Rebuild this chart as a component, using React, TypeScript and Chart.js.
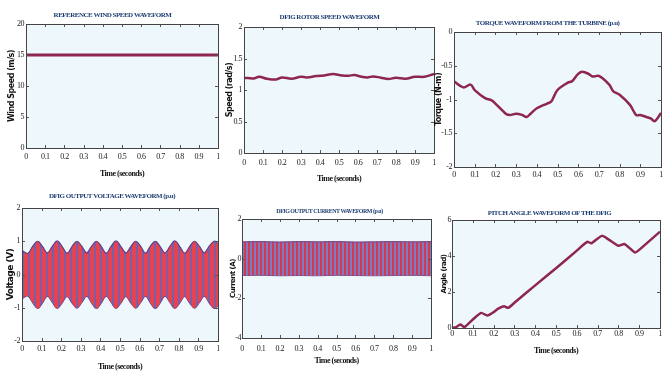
import React, { useEffect, useRef } from 'react';
import { Chart, registerables } from 'chart.js';
Chart.register(...registerables);

// ---------- DATA ----------
const xTickStep = 0.1;

const windT = [0, 1];
const windV = [15, 15];

const rotorT = [0, 0.05, 0.08, 0.12, 0.17, 0.2, 0.25, 0.3, 0.33, 0.38, 0.42, 0.47, 0.5, 0.55, 0.58, 0.62, 0.65, 0.68, 0.72, 0.76, 0.8, 0.85, 0.9, 0.95, 1.0];
const rotorV = [1.195, 1.184, 1.21, 1.18, 1.168, 1.2, 1.18, 1.21, 1.2, 1.221, 1.232, 1.253, 1.237, 1.226, 1.237, 1.21, 1.2, 1.215, 1.195, 1.174, 1.195, 1.18, 1.21, 1.21, 1.253];

const torqueT = [0, 0.045, 0.08, 0.1, 0.15, 0.18, 0.2, 0.25, 0.27, 0.3, 0.33, 0.35, 0.37, 0.4, 0.45, 0.47, 0.5, 0.55, 0.57, 0.6, 0.62, 0.65, 0.67, 0.7, 0.75, 0.77, 0.8, 0.85, 0.88, 0.9, 0.93, 0.95, 0.97, 1.0];
const torqueV = [-0.73, -0.82, -0.78, -0.86, -0.98, -1.01, -1.06, -1.21, -1.23, -1.21, -1.23, -1.26, -1.21, -1.13, -1.06, -1.03, -0.86, -0.75, -0.73, -0.62, -0.59, -0.62, -0.66, -0.65, -0.78, -0.88, -0.93, -1.08, -1.23, -1.23, -1.26, -1.28, -1.32, -1.2];

const voltT = [0, 0.03, 0.055, 0.08, 0.105, 0.13, 0.155, 0.18, 0.205, 0.23, 0.255, 0.28, 0.305, 0.33, 0.355, 0.38, 0.405, 0.43, 0.455, 0.48, 0.505, 0.53, 0.555, 0.58, 0.605, 0.63, 0.655, 0.68, 0.705, 0.73, 0.755, 0.78, 0.805, 0.83, 0.855, 0.88, 0.905, 0.93, 0.955, 0.98, 1.0];
const voltUpper = [0.72, 0.64, 0.85, 1.0, 0.84, 0.65, 0.85, 1.01, 0.84, 0.64, 0.84, 1.0, 0.85, 0.65, 0.85, 1.0, 0.84, 0.64, 0.85, 1.01, 0.84, 0.65, 0.84, 1.0, 0.85, 0.64, 0.85, 1.0, 0.84, 0.65, 0.85, 1.01, 0.84, 0.64, 0.84, 1.0, 0.85, 0.65, 0.85, 1.0, 0.93];
const voltLower = [-0.73, -0.65, -0.85, -1.02, -0.85, -0.65, -0.84, -1.02, -0.85, -0.66, -0.85, -1.01, -0.84, -0.65, -0.85, -1.02, -0.85, -0.65, -0.84, -1.02, -0.85, -0.66, -0.85, -1.01, -0.84, -0.65, -0.85, -1.02, -0.85, -0.65, -0.84, -1.02, -0.85, -0.66, -0.85, -1.01, -0.84, -0.65, -0.85, -1.02, -0.94];
const voltSpikeT = [0, 0.001, 0.002];
const voltSpikeV = [1.55, -0.75, 0.7];

const currT = [0, 0.1, 0.2, 0.3, 0.4, 0.5, 0.6, 0.7, 0.8, 0.9, 1.0];
const currUpper = [0.85, 0.86, 0.84, 0.86, 0.85, 0.86, 0.84, 0.85, 0.86, 0.85, 0.86];
const currLower = [-0.85, -0.84, -0.86, -0.85, -0.86, -0.84, -0.85, -0.86, -0.85, -0.84, -0.86];
const currSpikeT = [0, 0.001];
const currSpikeV = [0.85, -4];

const pitchT = [0, 0.02, 0.04, 0.06, 0.1, 0.14, 0.17, 0.2, 0.22, 0.25, 0.27, 0.3, 0.4, 0.5, 0.6, 0.65, 0.67, 0.72, 0.75, 0.8, 0.83, 0.88, 0.9, 1.0];
const pitchV = [0, 0.05, 0.19, 0.05, 0.47, 0.84, 0.69, 0.88, 1.06, 1.21, 1.12, 1.4, 2.37, 3.32, 4.3, 4.79, 4.71, 5.12, 4.94, 4.57, 4.66, 4.19, 4.34, 5.35];

// ---------- STYLE ----------
const LINE = '#8e2553';
const TITLE_COLOR = '#1f3f73';
const BG = '#eef8fc';
const TICK_FONT = { family: "'Liberation Serif', serif", size: 8 };
const TITLE_FONT_FAMILY = "'Liberation Serif', serif";
const XTITLE_FONT = { family: "'Liberation Serif', serif", size: 8, weight: 'bold' as const, lineHeight: 1 };

const pts = (xs: number[], ys: number[]) => xs.map((x, i) => ({ x, y: ys[i] }));

const framePlugin = {
  id: 'frameTicks',
  beforeDraw(chart: any) {
    const { ctx, chartArea: a } = chart;
    ctx.save();
    ctx.fillStyle = BG;
    ctx.fillRect(a.left, a.top, a.right - a.left, a.bottom - a.top);
    ctx.restore();
    try { (ctx as any).letterSpacing = '-0.5px'; } catch (e) { /* ignore */ }
  },
  afterDatasetsDraw(chart: any) {
    const { ctx, chartArea: a, scales } = chart;
    ctx.save();
    ctx.strokeStyle = '#555';
    ctx.lineWidth = 1;
    ctx.beginPath();
    const xs = scales.x, ys = scales.y;
    xs.ticks.forEach((t: any) => {
      const p = Math.round(xs.getPixelForValue(t.value)) + 0.5;
      ctx.moveTo(p, a.bottom); ctx.lineTo(p, a.bottom - 3);
      ctx.moveTo(p, a.top); ctx.lineTo(p, a.top + 3);
    });
    ys.ticks.forEach((t: any) => {
      const p = Math.round(ys.getPixelForValue(t.value)) + 0.5;
      ctx.moveTo(a.left, p); ctx.lineTo(a.left + 3, p);
      ctx.moveTo(a.right, p); ctx.lineTo(a.right - 3, p);
    });
    ctx.stroke();
    ctx.strokeStyle = '#444';
    ctx.strokeRect(Math.round(a.left) + 0.5, Math.round(a.top) + 0.5, Math.round(a.right - a.left), Math.round(a.bottom - a.top));
    ctx.restore();
  },
  afterDraw(chart: any) {
    try { (chart.ctx as any).letterSpacing = '0px'; } catch (e) { /* ignore */ }
  },
};

function stripes(list: [string, number][]) {
  const c = document.createElement('canvas');
  const w = list.reduce((s, v) => s + v[1], 0);
  c.width = w; c.height = 4;
  const g = c.getContext('2d')!;
  let x = 0;
  for (const [col, sw] of list) { g.fillStyle = col; g.fillRect(x, 0, sw, 4); x += sw; }
  return g.createPattern(c, 'repeat');
}

type Panel = {
  L: number; R: number; T: number; B: number;
  titleY: number; tickY: number; xTitleY: number | null; yLabelX: number; tickLabelRight: number;
  title: string; titleSize: number; yTitle: string; yTitleSize: number;
  yMin: number; yMax: number; yStep: number;
  datasets: () => any[];
};

const panels: Panel[] = [
  {
    L: 26, R: 218, T: 24, B: 148, titleY: 15, tickY: 157, xTitleY: 173, yLabelX: 12, tickLabelRight: 24,
    title: 'REFERENCE WIND SPEED WAVEFORM', titleSize: 7, yTitle: 'Wind Speed (m/s)', yTitleSize: 8,
    yMin: 0, yMax: 20, yStep: 5,
    datasets: () => [{ data: pts(windT, windV), borderColor: LINE, borderWidth: 3, pointRadius: 0 }],
  },
  {
    L: 244, R: 434, T: 27, B: 153, titleY: 17, tickY: 163, xTitleY: 178, yLabelX: 230, tickLabelRight: 242,
    title: 'DFIG ROTOR SPEED WAVEFORM', titleSize: 7, yTitle: 'Speed (rad/s)', yTitleSize: 8,
    yMin: 0, yMax: 2, yStep: 0.5,
    datasets: () => [{ data: pts(rotorT, rotorV), borderColor: LINE, borderWidth: 2.5, pointRadius: 0, tension: 0.4 }],
  },
  {
    L: 454, R: 661, T: 32, B: 167, titleY: 23, tickY: 175, xTitleY: null, yLabelX: 439, tickLabelRight: 452,
    title: 'TORQUE WAVEFORM FROM THE TURBINE (p.u)', titleSize: 7, yTitle: 'Torque (N-m)', yTitleSize: 8,
    yMin: -2, yMax: 0, yStep: 0.5,
    datasets: () => [{ data: pts(torqueT, torqueV), borderColor: LINE, borderWidth: 2.5, pointRadius: 0, tension: 0.35 }],
  },
  {
    L: 22, R: 218, T: 208, B: 341, titleY: 196, tickY: 349, xTitleY: 366, yLabelX: 11, tickLabelRight: 20,
    title: 'DFIG OUTPUT VOLTAGE WAVEFORM (p.u)', titleSize: 7, yTitle: 'Voltage (V)', yTitleSize: 9,
    yMin: -2, yMax: 2, yStep: 1,
    datasets: () => [
      { data: pts(voltT, voltUpper), borderColor: '#5e3f8c', borderWidth: 1.2, pointRadius: 0, tension: 0.4, fill: '+1',
        backgroundColor: stripes([['#e4434f', 4], ['#7d5ea6', 2]]) },
      { data: pts(voltT, voltLower), borderColor: '#5e3f8c', borderWidth: 1.2, pointRadius: 0, tension: 0.4, fill: false },
      { data: pts(voltSpikeT, voltSpikeV), borderColor: '#e8303c', borderWidth: 1.2, pointRadius: 0, fill: false },
    ],
  },
  {
    L: 242, R: 431, T: 219, B: 338, titleY: 211, tickY: 349, xTitleY: 360, yLabelX: 233, tickLabelRight: 241,
    title: 'DFIG OUTPUT CURRENT WAVEFORM (p.u)', titleSize: 6, yTitle: 'Current (A)', yTitleSize: 7,
    yMin: -4, yMax: 2, yStep: 2,
    datasets: () => [
      { data: pts(currT, currUpper), borderColor: '#6b3d8a', borderWidth: 1, pointRadius: 0, tension: 0.3, fill: '+1',
        backgroundColor: stripes([['#d33a52', 2], ['#7a7cc4', 2]]) },
      { data: pts(currT, currLower), borderColor: '#6b3d8a', borderWidth: 1, pointRadius: 0, tension: 0.3, fill: false },
      { data: pts(currSpikeT, currSpikeV), borderColor: '#e8303c', borderWidth: 1.2, pointRadius: 0, fill: false },
    ],
  },
  {
    L: 452, R: 660, T: 220, B: 328, titleY: 213, tickY: 334, xTitleY: 350, yLabelX: 444, tickLabelRight: 451,
    title: 'PITCH ANGLE WAVEFORM OF THE DFIG', titleSize: 7, yTitle: 'Angle (rad)', yTitleSize: 7,
    yMin: 0, yMax: 6, yStep: 2,
    datasets: () => [{ data: pts(pitchT, pitchV), borderColor: LINE, borderWidth: 2.5, pointRadius: 0, tension: 0.2 }],
  },
];

function fmt(v: number) {
  return String(Number(v.toFixed(2)));
}

function PanelChart({ p }: { p: Panel }) {
  const ref = useRef<HTMLCanvasElement>(null);
  const padRight = 5;
  const left = p.yLabelX - 5;
  const top = p.titleY - 8;
  const bottom = p.xTitleY !== null ? p.xTitleY + 6 : p.B + 20;
  const width = p.R - left + padRight;
  const height = bottom - top;
  const yW = p.L - left;
  const titleH = p.T - top;
  const xH = bottom - p.B;

  useEffect(() => {
    const canvas = ref.current!;
    const chart = new Chart(canvas, {
      type: 'line',
      data: { datasets: p.datasets() },
      plugins: [framePlugin],
      options: {
        animation: false,
        responsive: false,
        maintainAspectRatio: false,
        layout: { padding: { left: 0, top: 0, bottom: 0, right: padRight } },
        plugins: {
          legend: { display: false },
          tooltip: { enabled: false },
          title: {
            display: true,
            text: p.title,
            color: TITLE_COLOR,
            font: { family: TITLE_FONT_FAMILY, size: p.titleSize, weight: 'bold', lineHeight: 1 },
            padding: { top: 8 - p.titleSize / 2, bottom: titleH - (8 - p.titleSize / 2) - p.titleSize },
          },
        },
        scales: {
          x: {
            type: 'linear', min: 0, max: 1,
            grid: { display: false, drawTicks: false },
            border: { display: false },
            ticks: {
              stepSize: xTickStep, autoSkip: false, maxRotation: 0, minRotation: 0,
              padding: Math.max(0, p.tickY - p.B - 5), font: TICK_FONT, color: '#222',
              callback: (v: any) => fmt(Number(v)),
            },
            title: { display: p.xTitleY !== null, text: 'Time (seconds)', color: '#111', font: XTITLE_FONT, padding: { top: 0, bottom: 1.5 } },
            afterFit: (s: any) => { s.height = xH; s.paddingLeft = 0; s.paddingRight = 0; },
          },
          y: {
            type: 'linear', min: p.yMin, max: p.yMax,
            grid: { display: false, drawTicks: false },
            border: { display: false },
            ticks: {
              stepSize: p.yStep, autoSkip: false,
              padding: Math.max(0, p.L - p.tickLabelRight), font: TICK_FONT, color: '#222',
              callback: (v: any) => fmt(Number(v)),
            },
            title: {
              display: true, text: p.yTitle, color: '#111',
              font: { family: "'DejaVu Sans', sans-serif", size: p.yTitleSize, weight: 'bold', lineHeight: 1 },
              padding: { top: 5 - p.yTitleSize / 2, bottom: 0 },
            },
            afterFit: (s: any) => { s.width = yW; s.paddingTop = 0; s.paddingBottom = 0; },
          },
        },
      } as any,
    });
    return () => chart.destroy();
  }, []);

  return (
    <canvas
      ref={ref}
      width={width}
      height={height}
      style={{ position: 'absolute', left, top, width, height }}
    />
  );
}

export default function App() {
  return (
    <div style={{ position: 'fixed', left: 0, top: 0, width: 672, height: 372, background: '#ffffff', overflow: 'hidden' }}>
      {panels.map((p, i) => (
        <PanelChart key={i} p={p} />
      ))}
    </div>
  );
}
